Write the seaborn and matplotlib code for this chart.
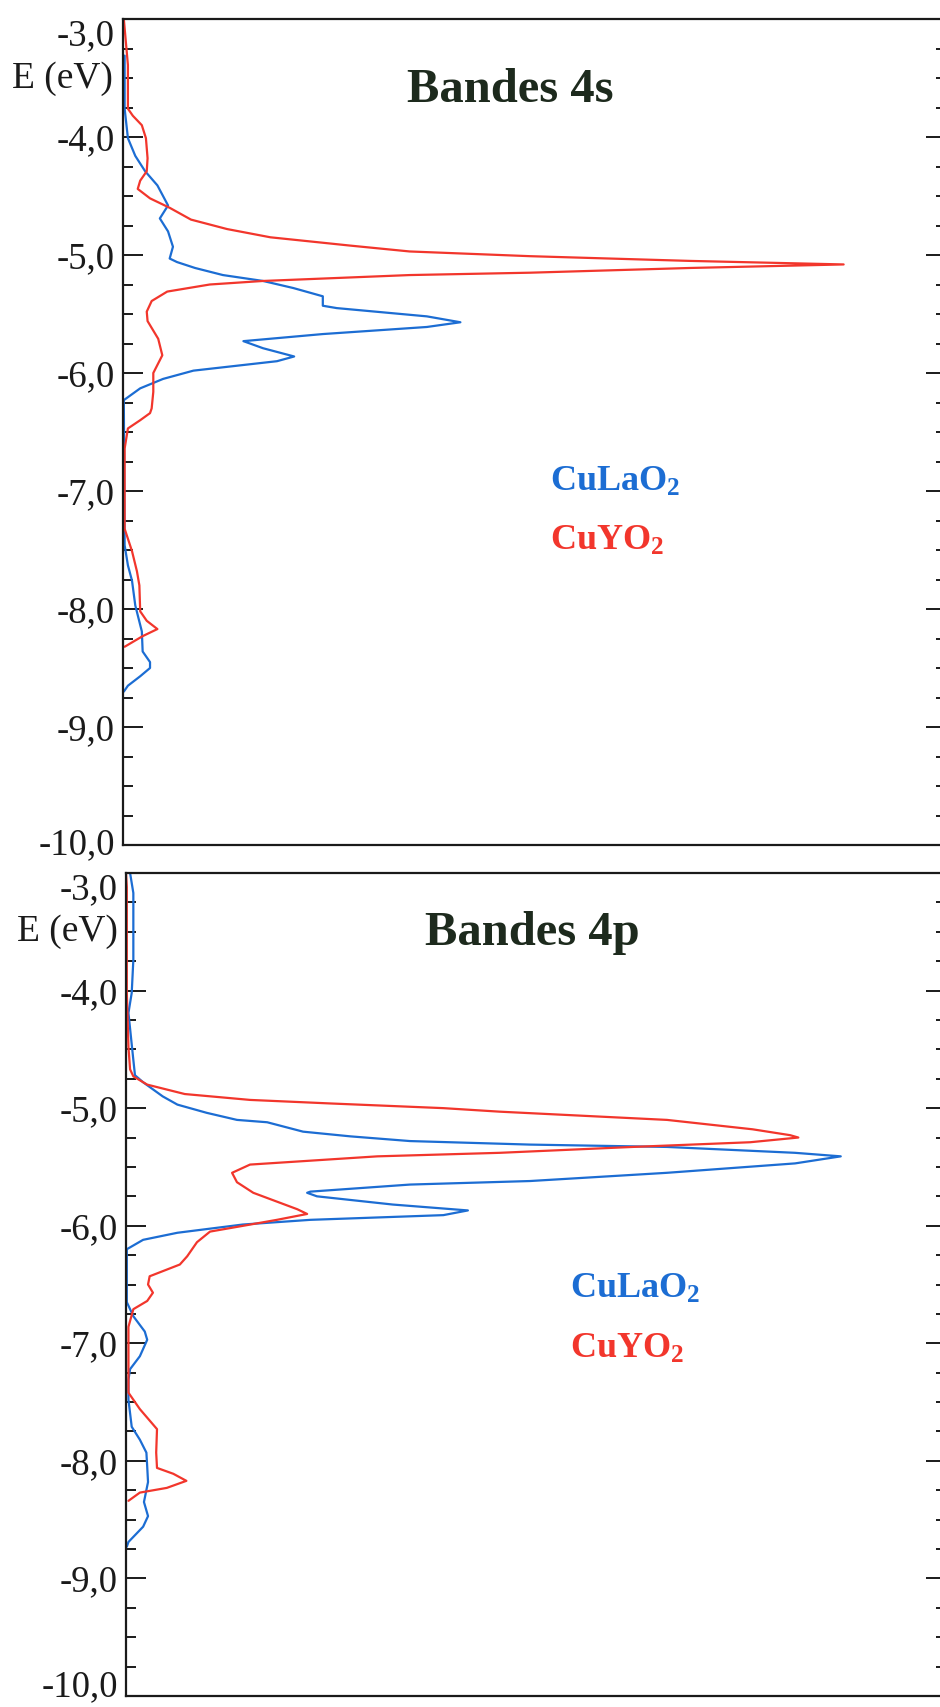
import numpy as np
import pandas as pd
import matplotlib
matplotlib.use("Agg")
import matplotlib.pyplot as plt
import seaborn as sns

# ---------------- data (energy in eV, DOS in arbitrary units) ----------------
E_4s_cula = [-3.31, -3.76, -4.01, -4.16, -4.29, -4.41, -4.58, -4.69, -4.80, -4.93, -5.03, -5.06,
             -5.11, -5.17, -5.22, -5.28, -5.35, -5.43, -5.45, -5.52, -5.57, -5.61, -5.67, -5.73,
             -5.79, -5.86, -5.90, -5.98, -6.05, -6.13, -6.23, -7.46, -7.63, -7.76, -7.97, -8.19,
             -8.36, -8.45, -8.50, -8.57, -8.65, -8.70]
D_4s_cula = [0.2, 0.2, 0.6, 1.5, 2.7, 4.2, 5.5, 4.5, 5.5, 6.1, 5.7, 6.6,
             8.8, 12.2, 17.1, 20.8, 24.4, 24.4, 26.1, 37.1, 41.2, 37.1, 24.4, 14.7,
             17.1, 20.9, 18.8, 8.6, 4.9, 2.1, 0.1, 0.2, 0.6, 1.1, 1.5, 2.3,
             2.4, 3.3, 3.3, 2.1, 0.6, 0.1]

E_4s_cuy = [-3.00, -3.39, -3.76, -3.82, -3.90, -4.01, -4.18, -4.29, -4.37, -4.44, -4.52, -4.60,
            -4.70, -4.78, -4.85, -4.92, -4.97, -5.01, -5.05, -5.08, -5.11, -5.15, -5.17, -5.22,
            -5.25, -5.31, -5.39, -5.48, -5.56, -5.71, -5.85, -6.00, -6.16, -6.30, -6.34, -6.40,
            -6.47, -6.64, -7.32, -7.51, -7.68, -7.80, -8.02, -8.10, -8.17, -8.23, -8.32]
D_4s_cuy = [0.1, 0.6, 0.6, 1.2, 2.3, 2.8, 3.0, 2.9, 2.1, 1.8, 3.3, 5.7,
            8.3, 12.7, 18.0, 27.7, 35.0, 49.7, 69.2, 88.0, 69.2, 49.7, 35.0, 17.1,
            10.6, 5.4, 3.5, 2.9, 3.0, 4.3, 4.8, 3.7, 3.7, 3.5, 3.3, 2.1,
            0.6, 0.2, 0.2, 1.1, 1.7, 2.0, 2.1, 2.9, 4.2, 2.4, 0.2]

E_4p_cula = [-3.00, -3.17, -3.74, -4.02, -4.19, -4.59, -4.72, -4.78, -4.90, -4.97, -5.04, -5.10,
             -5.12, -5.20, -5.24, -5.28, -5.31, -5.33, -5.38, -5.41, -5.47, -5.55, -5.62, -5.65,
             -5.71, -5.72, -5.75, -5.82, -5.87, -5.91, -5.95, -5.99, -6.06, -6.12, -6.20, -6.65,
             -6.77, -6.90, -6.97, -7.11, -7.22, -7.31, -7.48, -7.71, -7.82, -7.93, -8.05, -8.18,
             -8.35, -8.47, -8.56, -8.69, -8.73]
D_4p_cula = [0.5, 0.9, 0.9, 0.7, 0.3, 0.9, 1.1, 2.1, 4.5, 6.3, 9.9, 13.6,
             17.3, 21.7, 27.5, 34.8, 49.5, 66.3, 82.0, 87.6, 82.0, 66.3, 49.5, 34.8,
             22.6, 22.2, 23.4, 32.7, 41.9, 38.9, 22.6, 14.3, 6.3, 2.1, 0.1, 0.1,
             0.9, 2.3, 2.6, 1.7, 0.5, 0.3, 0.3, 0.7, 1.7, 2.5, 2.6, 2.7,
             2.2, 2.7, 2.1, 0.3, 0.1]

E_4p_cuy = [-3.00, -3.12, -4.02, -4.48, -4.67, -4.73, -4.80, -4.88, -4.93, -4.96, -5.00, -5.03,
            -5.10, -5.18, -5.23, -5.25, -5.29, -5.33, -5.38, -5.41, -5.48, -5.55, -5.63, -5.72,
            -5.86, -5.90, -5.95, -6.01, -6.05, -6.14, -6.26, -6.33, -6.43, -6.50, -6.57, -6.64,
            -6.71, -6.86, -7.14, -7.42, -7.56, -7.73, -7.93, -8.06, -8.11, -8.17, -8.23, -8.27,
            -8.34]
D_4p_cuy = [0.0, 0.1, 0.1, 0.3, 0.5, 0.9, 2.6, 7.2, 15.2, 25.0, 38.9, 45.8,
            66.3, 76.8, 81.4, 82.4, 76.5, 62.1, 45.8, 30.8, 15.2, 13.0, 13.6, 15.6,
            21.0, 22.2, 18.5, 13.6, 10.3, 8.7, 7.5, 6.6, 2.9, 2.7, 3.3, 2.6,
            0.9, 0.3, 0.3, 0.3, 1.7, 3.8, 3.7, 3.8, 5.8, 7.4, 5.0, 1.7,
            0.3]

titles = ["Bandes 4s", "Bandes 4p"]
series_names = ["CuLaO$_\\mathbf{2}$", "CuYO$_\\mathbf{2}$"]
y_ticks = [-3.0, -4.0, -5.0, -6.0, -7.0, -8.0, -9.0, -10.0]
y_label = "E (eV)"

# ---------------- style ----------------
sns.set_style("white")
plt.rcParams["font.family"] = ["Liberation Serif", "DejaVu Serif"]
plt.rcParams["mathtext.fontset"] = "custom"
plt.rcParams["mathtext.rm"] = "Liberation Serif:bold"
plt.rcParams["mathtext.bf"] = "Liberation Serif:bold"
plt.rcParams["mathtext.it"] = "Liberation Serif:bold"

BLUE = "#1c6dd3"
RED = "#f2362c"
TITLE_C = "#1d2a1d"
INK = "#1a1a1a"

W, H = 940, 1707
fig = plt.figure(figsize=(W / 100, H / 100), dpi=100)
fig.patch.set_facecolor("white")

panels = [
    dict(left=123, top=19, bottom=845, la=(E_4s_cula, D_4s_cula), y=(E_4s_cuy, D_4s_cuy),
         title=titles[0], title_xy=(510, 90), elabel_xy=(113, 79),
         leg_xy=[(550, 482), (550, 541)], last_va="center"),
    dict(left=126, top=873, bottom=1696, la=(E_4p_cula, D_4p_cula), y=(E_4p_cuy, D_4p_cuy),
         title=titles[1], title_xy=(532, 933), elabel_xy=(118, 932),
         leg_xy=[(570, 1289), (570, 1349)], last_va="baseline"),
]
right_px = 946

for p in panels:
    ax = fig.add_axes([p["left"] / W, 1 - p["bottom"] / H,
                       (right_px - p["left"]) / W, (p["bottom"] - p["top"]) / H])
    df_la = pd.DataFrame({"E": p["la"][0], "DOS": p["la"][1]})
    df_y = pd.DataFrame({"E": p["y"][0], "DOS": p["y"][1]})
    sns.lineplot(data=df_la, x="DOS", y="E", sort=False, estimator=None, ax=ax,
                 color=BLUE, linewidth=1.6)
    sns.lineplot(data=df_y, x="DOS", y="E", sort=False, estimator=None, ax=ax,
                 color=RED, linewidth=1.6)
    ax.set_xlim(0, 100.5)
    ax.set_ylim(-10, -3)
    ax.set_xlabel("")
    ax.set_ylabel("")
    ax.set_xticks([])
    ax.set_yticks(y_ticks, [f"{v:.1f}".replace(".", ",") for v in y_ticks])
    ax.set_yticks(np.arange(-10, -3, 0.25), minor=True)
    ax.tick_params(axis="y", which="major", direction="in", length=14.5, width=1.4,
                   left=True, right=True, labelsize=26.5, labelcolor=INK, color=INK, pad=6)
    ax.tick_params(axis="y", which="minor", direction="in", length=7.5, width=1.4,
                   left=True, right=True, color=INK)
    for s in ax.spines.values():
        s.set_linewidth(1.6)
        s.set_color(INK)
    for lbl in ax.get_yticklabels():
        if lbl.get_text() == "-3,0":
            lbl.set_verticalalignment("top")
        if lbl.get_text() == "-10,0":
            lbl.set_verticalalignment(p["last_va"])

    fig.text(p["elabel_xy"][0] / W, 1 - p["elabel_xy"][1] / H, y_label,
             ha="right", va="center", fontsize=27, color=INK)
    fig.text(p["title_xy"][0] / W, 1 - p["title_xy"][1] / H, p["title"],
             ha="center", va="center", fontsize=35, fontweight="bold", color=TITLE_C)
    for (lx, ly), name, col in zip(p["leg_xy"], series_names, [BLUE, RED]):
        fig.text(lx / W, 1 - ly / H, name, ha="left", va="center", fontsize=26,
                 fontweight="bold", color=col)

fig.savefig("out.png", dpi=100, facecolor="white")
